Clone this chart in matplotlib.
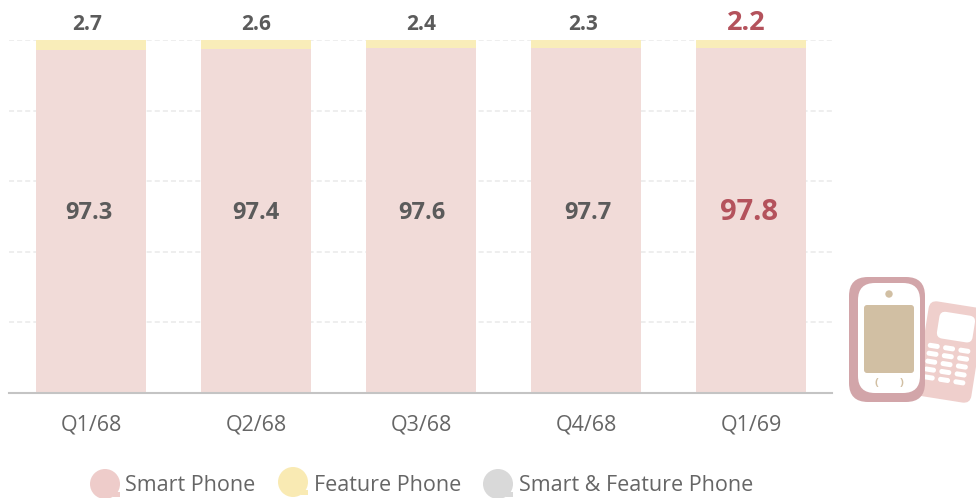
#!/usr/bin/env python3
"""Smart phone vs feature phone share by quarter, stacked to 100 percent."""

import matplotlib
matplotlib.use("Agg")
import matplotlib.pyplot as plt
from matplotlib.patches import Circle, FancyBboxPatch, Rectangle
from matplotlib.transforms import Affine2D

quarters = ["Q1/68", "Q2/68", "Q3/68", "Q4/68", "Q1/69"]
smart = [97.3, 97.4, 97.6, 97.7, 97.8]
feature = [2.7, 2.6, 2.4, 2.3, 2.2]
legend_labels = ["Smart Phone", "Feature Phone", "Smart & Feature Phone"]
y_ticks = [0, 20, 40, 60, 80, 100]

SMART = "#f1dbd8"
FEATURE = "#f9edb9"
INK = "#5b5b5b"
TICK = "#666666"
HIGHLIGHT = "#b4525c"
GRID = "#e9e9e9"
BASE = "#c4c4c4"
LEGEND_COLORS = ["#eeccca", "#f9eab3", "#d9d9d9"]
PHONE = "#d2a5a9"
PHONE2 = "#efcfcc"
SCREEN = "#d1bfa3"

plt.rcParams["font.family"] = ["Open Sans", "DejaVu Sans"]

W, H = 976, 498
fig = plt.figure(figsize=(W / 100, H / 100), dpi=100, facecolor="white")
ax = fig.add_axes([9 / W, 1 - 393 / H, (832 - 9) / W, (393 - 40) / H])

x = list(range(len(quarters)))
ax.bar(x, smart, width=110 / 165, color=SMART, zorder=2)
ax.bar(x, feature, bottom=smart, width=110 / 165, color=FEATURE, zorder=2)

ax.set_xlim(-0.497, 4.491)
ax.set_ylim(0, 100)
ax.set_yticks(y_ticks[1:])
ax.set_xticks(x, quarters)
ax.tick_params(axis="y", left=False, labelleft=False)
ax.tick_params(axis="x", bottom=False, labelsize=15.5, labelcolor=TICK, pad=12)
ax.grid(axis="y", color=GRID, linewidth=1.1, linestyle=(0, (3.3, 2)), zorder=1)
ax.set_axisbelow(True)
for spine in ("top", "right", "left"):
    ax.spines[spine].set_visible(False)
ax.spines["bottom"].set_color(BASE)
ax.spines["bottom"].set_linewidth(1.5)
ax.spines["bottom"].set_zorder(4)

# the source labels are not quite centred on their bars (offsets in points)
top_nudge = [-3, 0, 0, -2.2, -3.6]
mid_nudge = [-1.5, 0, 0.7, 1.5, -1.5]
for i, (s, f) in enumerate(zip(smart, feature)):
    last = i == len(quarters) - 1
    color = HIGHLIGHT if last else INK
    ax.annotate(f"{f}", (i, 100), xytext=(top_nudge[i], 11.5 if not last else 12.5),
                textcoords="offset points", ha="center", va="center",
                color=color, weight="bold", fontsize=19.5 if last else 15, zorder=5)
    ax.annotate(f"{s}", (i, 51), xytext=(mid_nudge[i], 0),
                textcoords="offset points", ha="center", va="center",
                color=color, weight="bold", fontsize=21 if last else 17, zorder=5)

# overlay in reference pixels for legend and phone icon
over = fig.add_axes([0, 0, 1, 1], facecolor="none")
over.set_xlim(0, W)
over.set_ylim(H, 0)
over.axis("off")

legend_dots = [105, 293, 498]
legend_dot_y = [484, 482, 484]
legend_text = [125, 314, 519]
for cx, cy, tx, color, label in zip(legend_dots, legend_dot_y, legend_text, LEGEND_COLORS, legend_labels):
    over.add_patch(Circle((cx, cy), 15, color=color, lw=0))
    over.add_patch(Rectangle((cx + 8, cy + 8), 7, 5, color=color, lw=0))
    over.text(tx, 485, label, ha="left", va="center", color=TICK, fontsize=15.5)

# small keypad phone, tilted behind the big one
tilt = Affine2D().rotate_deg_around(950, 352, 9) + over.transData
over.add_patch(FancyBboxPatch((922, 304), 56, 96, boxstyle="round,pad=0,rounding_size=8",
                              fc=PHONE2, lw=0, transform=tilt))
over.add_patch(FancyBboxPatch((934, 313), 36, 27, boxstyle="round,pad=0,rounding_size=6",
                              fc="white", lw=0, transform=tilt))
for row in range(5):
    for col in range(3):
        over.add_patch(FancyBboxPatch((927 + col * 15.5, 346 + row * 8), 12, 5,
                                      boxstyle="round,pad=0,rounding_size=2.4",
                                      fc="white", lw=0, transform=tilt))

# big smart phone
over.add_patch(FancyBboxPatch((849, 277), 76, 125, boxstyle="round,pad=0,rounding_size=19",
                              fc=PHONE, lw=0, zorder=3))
over.add_patch(FancyBboxPatch((858, 283), 62, 110, boxstyle="round,pad=0,rounding_size=17",
                              fc="white", lw=0, zorder=3))
over.add_patch(FancyBboxPatch((864, 305), 50, 68, boxstyle="round,pad=0,rounding_size=3",
                              fc=SCREEN, lw=0, zorder=4))
over.add_patch(Circle((889, 294), 3.7, fc=SCREEN, lw=0, zorder=4))
over.text(876, 383, "(", ha="center", va="center", fontsize=8, color=SCREEN, weight="bold", zorder=4)
over.text(902, 383, ")", ha="center", va="center", fontsize=8, color=SCREEN, weight="bold", zorder=4)

fig.savefig("out.png", dpi=100, facecolor="white")
